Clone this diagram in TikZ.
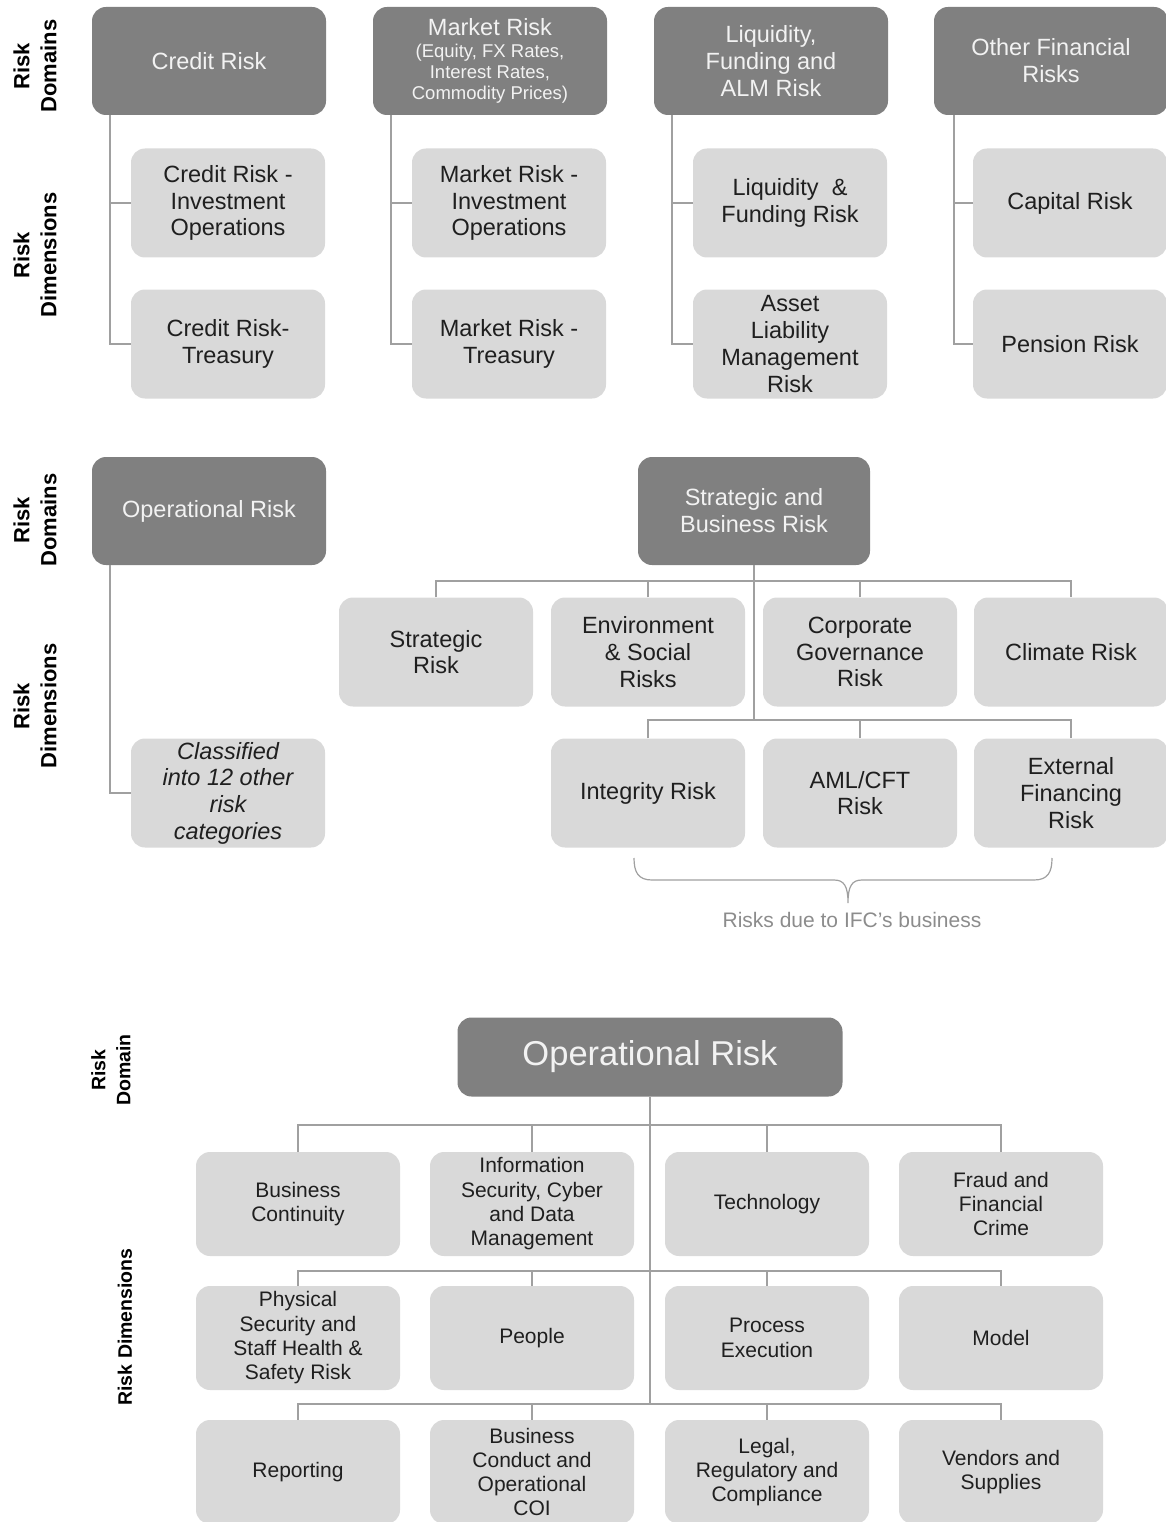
\documentclass[tikz,border=0pt]{standalone}
\usepackage{fontspec}
\setmainfont{Liberation Sans}
\definecolor{domfill}{HTML}{808080}
\definecolor{dimfill}{HTML}{D9D9D9}
\definecolor{linkgray}{HTML}{A0A0A0}
\definecolor{notegray}{HTML}{8C8C8C}
\tikzset{
  rdomain/.style={fill=domfill, rounded corners=14pt, minimum width=234pt, minimum height=108pt, inner sep=2pt, align=center, text=white!95!black, font=\fontsize{23.5}{27}\selectfont},
  rdim/.style={fill=dimfill, rounded corners=14pt, minimum width=194pt, minimum height=109pt, inner sep=2pt, align=center, text=black!88, font=\fontsize{23.5}{26.7}\selectfont},
  opdim/.style={rdim, minimum width=204pt, minimum height=104pt, font=\fontsize{21}{24.3}\selectfont},
  sidelabel/.style={rotate=90, align=center, font=\bfseries\fontsize{22}{27}\selectfont},
  link/.style={draw=linkgray, line width=1.6pt},
}
\begin{document}
\begin{tikzpicture}[x=1pt, y=-1pt]
    \useasboundingbox (0,0) rectangle (1166,1522);
    % financial risks
    \node[sidelabel] (lblDomA) at (35,66) {Risk\\Domains};
    \node[sidelabel] (lblDimA) at (35,255) {Risk\\Dimensions};
    \node[rdomain] (cr) at (209,61) {Credit Risk};
    \node[rdomain, font=\fontsize{18.5}{21}\selectfont] (mr) at (490,61) {{\fontsize{23.5}{27}\selectfont Market Risk}\\[1pt](Equity, FX Rates,\\Interest Rates,\\Commodity Prices)};
    \node[rdomain] (lq) at (771,61) {Liquidity,\\Funding and\\ALM Risk};
    \node[rdomain] (ofr) at (1051,61) {Other Financial\\Risks};
    \node[rdim] (crA) at (228,203) {Credit Risk -\\Investment\\Operations};
    \node[rdim] (crB) at (228,344) {Credit Risk-\\Treasury};
    \node[rdim] (mrA) at (509,203) {Market Risk -\\Investment\\Operations};
    \node[rdim] (mrB) at (509,344) {Market Risk -\\Treasury};
    \node[rdim] (lqA) at (790,203) {Liquidity~ \&\\Funding Risk};
    \node[rdim] (lqB) at (790,344) {Asset\\Liability\\Management\\Risk};
    \node[rdim] (ofrA) at (1070,203) {Capital Risk};
    \node[rdim] (ofrB) at (1070,344) {Pension Risk};
    \draw[link] ([xshift=18pt]cr.south west) |- (crA.west);
    \draw[link] ([xshift=18pt]cr.south west) |- (crB.west);
    \draw[link] ([xshift=18pt]mr.south west) |- (mrA.west);
    \draw[link] ([xshift=18pt]mr.south west) |- (mrB.west);
    \draw[link] ([xshift=18pt]lq.south west) |- (lqA.west);
    \draw[link] ([xshift=18pt]lq.south west) |- (lqB.west);
    \draw[link] ([xshift=20pt]ofr.south west) |- (ofrA.west);
    \draw[link] ([xshift=20pt]ofr.south west) |- (ofrB.west);
    % operational, strategic and business risk
    \node[sidelabel] (lblDomB) at (35,520) {Risk\\Domains};
    \node[sidelabel] (lblDimB) at (35,706) {Risk\\Dimensions};
    \node[rdomain] (opd) at (209,511) {Operational Risk};
    \node[rdim] (cls) at (228,793) {\itshape Classified\\\itshape into 12 other\\\itshape risk\\\itshape categories};
    \draw[link] ([xshift=18pt]opd.south west) |- (cls.west);
    \node[rdomain, minimum width=232pt] (sbr) at (754,511) {Strategic and\\Business Risk};
    \coordinate (sb1) at (754,581);
    \coordinate (sb2) at (754,720);
    \node[rdim] (str) at (436,652) {Strategic\\Risk};
    \node[rdim] (env) at (648,652) {Environment\\\& Social\\Risks};
    \node[rdim] (cgr) at (860,652) {Corporate\\Governance\\Risk};
    \node[rdim] (clm) at (1071,652) {Climate Risk};
    \node[rdim] (integ) at (648,793) {Integrity Risk};
    \node[rdim] (aml) at (860,793) {AML/CFT\\Risk};
    \node[rdim] (ext) at (1071,793) {External\\Financing\\Risk};
    \draw[link] (sbr.south) -- (sb2);
    \draw[link] (str.north) |- (sb1) -| (clm.north);
    \draw[link] (env.north) -- (env.north |- sb1);
    \draw[link] (cgr.north) -- (cgr.north |- sb1);
    \draw[link] (integ.north) |- (sb2) -| (ext.north);
    \draw[link] (aml.north) -- (aml.north |- sb2);
    \coordinate (braceL) at (634,858);
    \coordinate (braceR) at (1052,858);
    \draw[draw=linkgray, line width=1.2pt] (braceL) .. controls (634,872) and (638,880) .. (652,880) -- (834,880)
      .. controls (844,880) and (848,886) .. (848,903) .. controls (848,886) and (852,880) .. (862,880)
      -- (1034,880) .. controls (1048,880) and (1052,872) .. (braceR);
    \node[text=notegray, font=\fontsize{21}{24}\selectfont] (ifc) at (852,920) {Risks due to IFC’s business};
    % operational risk breakdown
    \node[sidelabel, font=\bfseries\fontsize{19.5}{25}\selectfont] (lblDomC) at (111,1070) {Risk\\Domain};
    \node[sidelabel, font=\bfseries\fontsize{19.5}{25}\selectfont] (lblDimC) at (125,1327) {Risk Dimensions};
    \node[rdomain, minimum width=385pt, minimum height=79pt, font=\fontsize{34.5}{38}\selectfont] (ops) at (650,1057) {Operational Risk};
    \coordinate (ob1) at (650,1125);
    \coordinate (ob2) at (650,1271);
    \coordinate (ob3) at (650,1404);
    \node[opdim] (bc) at (298,1204) {Business\\Continuity};
    \node[opdim] (isc) at (532,1204) {Information\\Security, Cyber\\and Data\\Management};
    \node[opdim] (tec) at (767,1204) {Technology};
    \node[opdim] (frd) at (1001,1204) {Fraud and\\Financial\\Crime};
    \node[opdim] (phy) at (298,1338) {Physical\\Security and\\Staff Health \&\\Safety Risk};
    \node[opdim] (ppl) at (532,1338) {People};
    \node[opdim] (pex) at (767,1338) {Process\\Execution};
    \node[opdim] (mdl) at (1001,1338) {Model};
    \node[opdim] (rep) at (298,1472) {Reporting};
    \node[opdim] (bco) at (532,1472) {Business\\Conduct and\\Operational\\COI};
    \node[opdim] (leg) at (767,1472) {Legal,\\Regulatory and\\Compliance};
    \node[opdim] (ven) at (1001,1472) {Vendors and\\Supplies};
    \draw[link] (ops.south) -- (ob3);
    \draw[link] (bc.north) |- (ob1) -| (frd.north);
    \draw[link] (isc.north) -- (isc.north |- ob1);
    \draw[link] (tec.north) -- (tec.north |- ob1);
    \draw[link] (phy.north) |- (ob2) -| (mdl.north);
    \draw[link] (ppl.north) -- (ppl.north |- ob2);
    \draw[link] (pex.north) -- (pex.north |- ob2);
    \draw[link] (rep.north) |- (ob3) -| (ven.north);
    \draw[link] (bco.north) -- (bco.north |- ob3);
    \draw[link] (leg.north) -- (leg.north |- ob3);
\end{tikzpicture}
\end{document}
